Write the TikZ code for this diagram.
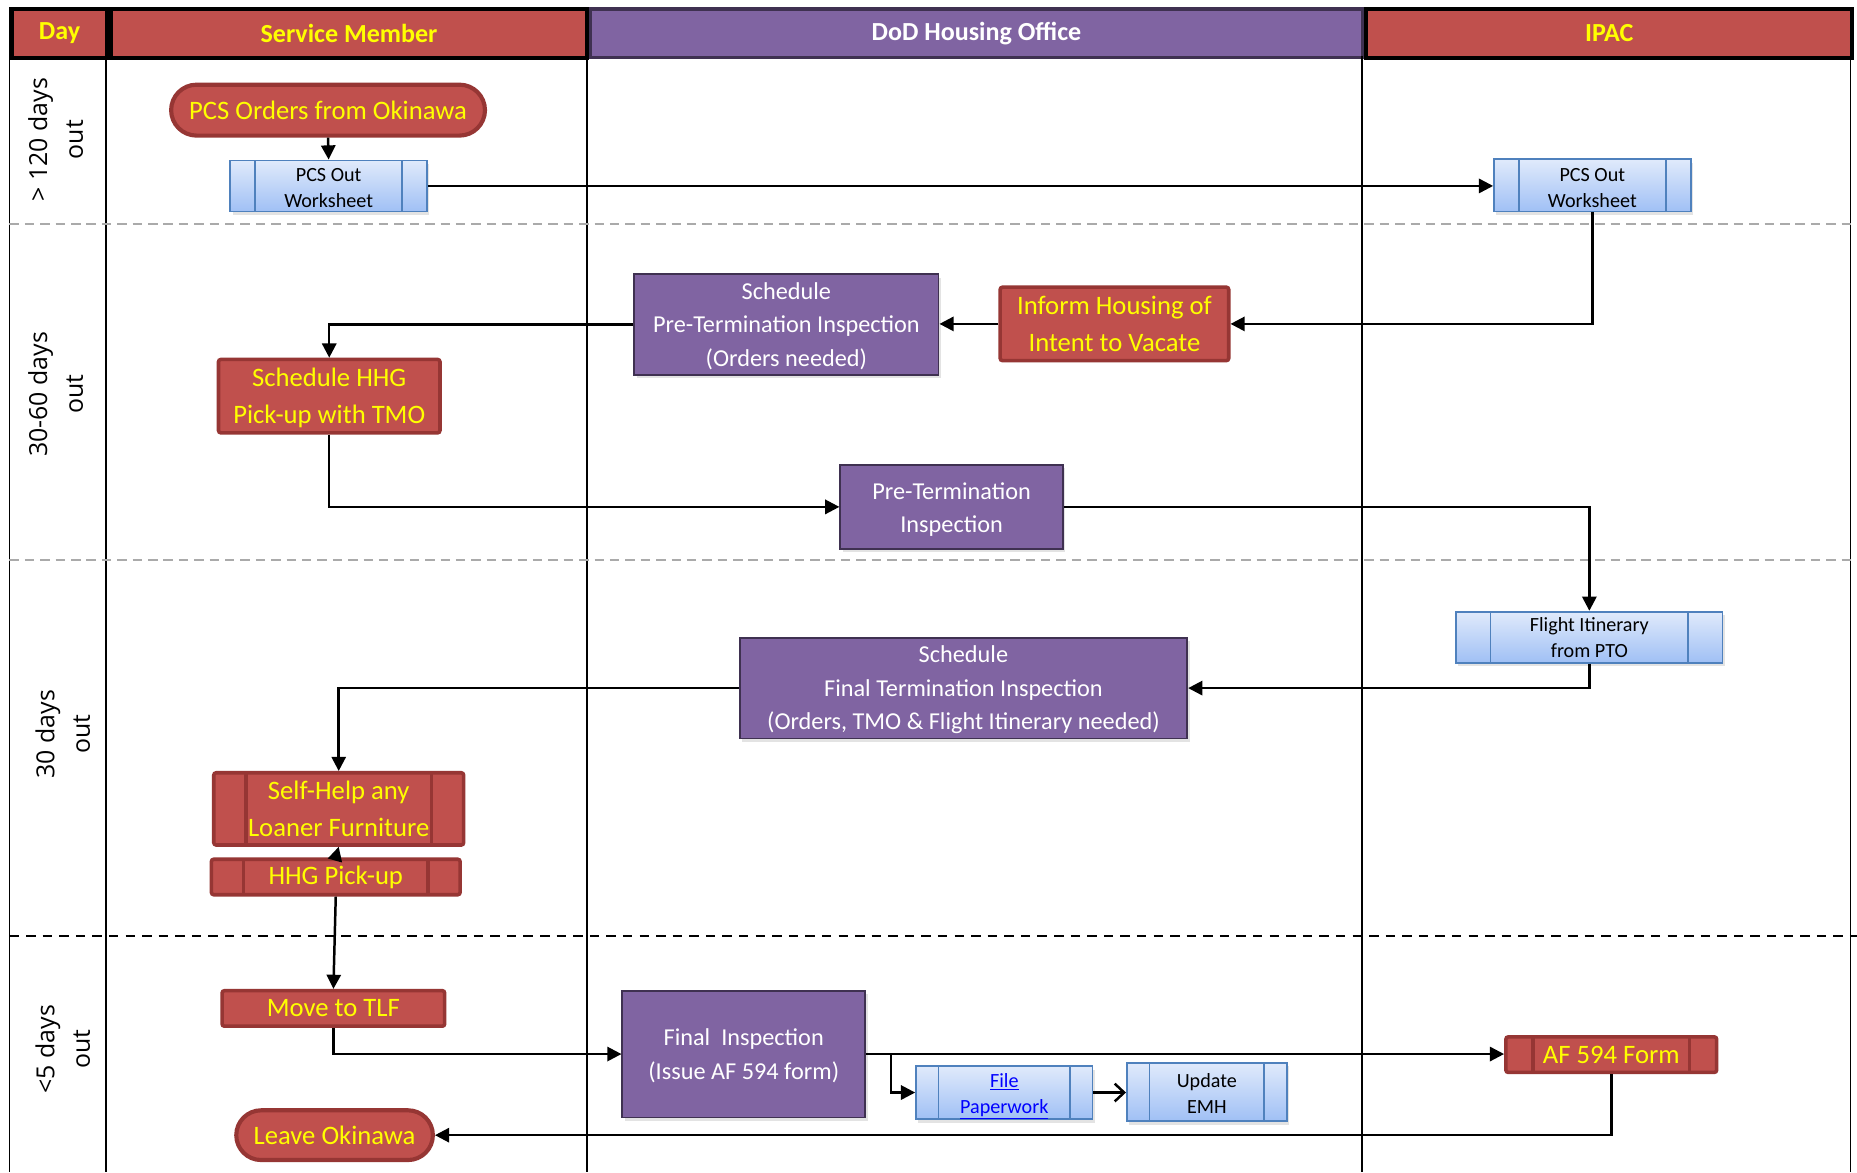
\documentclass[tikz,border=0pt]{standalone}
\usepackage{fontspec}
\setmainfont{Carlito}
\newfontfamily\lanefont{Open Sans}
\usetikzlibrary{shapes.misc,shadows,arrows.meta,calc}
\definecolor{rfill}{RGB}{192,80,77}
\definecolor{rdark}{RGB}{150,54,52}
\definecolor{pfill}{RGB}{128,100,162}
\definecolor{pdark}{RGB}{63,49,81}
\definecolor{bborder}{RGB}{79,129,189}
\definecolor{btop}{RGB}{224,234,251}
\definecolor{bbot}{RGB}{160,192,245}
\definecolor{ylw}{RGB}{255,255,0}
\definecolor{dgray}{RGB}{170,170,170}
\definecolor{linkblue}{RGB}{0,0,255}
\begin{document}
\begin{tikzpicture}[x=1pt,y=-1pt,
  hdr/.style={rectangle, draw=black, line width=3.5pt, fill=rfill, text=ylw, font=\bfseries\fontsize{22}{26}\selectfont, inner sep=0pt, anchor=north west},
  redbox/.style={rectangle, rounded corners=2pt, draw=rdark, line width=3pt, fill=rfill, text=ylw, font=\fontsize{22.5}{31}\selectfont, align=center, inner sep=0pt},
  redproc/.style={redbox, path picture={\draw[rdark, line width=3pt]
      ([xshift=#1]path picture bounding box.north west) -- ([xshift=#1]path picture bounding box.south west)
      ([xshift=-#1]path picture bounding box.north east) -- ([xshift=-#1]path picture bounding box.south east);}},
  stadium/.style={rounded rectangle, draw=rdark, line width=3.5pt, fill=rfill, text=ylw, font=\fontsize{22.5}{31}\selectfont, inner sep=0pt},
  shad/.style={drop shadow={shadow xshift=2pt, shadow yshift=-3pt, opacity=0.22}},
  purplebox/.style={rectangle, draw=pdark, line width=1.5pt, fill=pfill, text=white, font=\fontsize{20.5}{28}\selectfont, align=center, inner sep=0pt, shad},
  blueproc/.style={rectangle, draw=bborder, line width=1.5pt, top color=btop, bottom color=bbot, text=black, font=\fontsize{17}{22}\selectfont, align=center, inner sep=0pt, shad,
    path picture={\draw[bborder, line width=1.5pt]
      ([xshift=#1]path picture bounding box.north west) -- ([xshift=#1]path picture bounding box.south west)
      ([xshift=-#1]path picture bounding box.north east) -- ([xshift=-#1]path picture bounding box.south east);}},
  arr/.style={line width=2.1pt, -{Triangle[length=12pt,width=12pt]}},
  openarr/.style={line width=2.1pt, -{Straight Barb[length=8pt,width=15pt,line width=2.1pt]}},
  lane/.style={line width=1.5pt, black},
  sep/.style={line width=1.5pt, dgray, dash pattern=on 8pt off 5pt},
  sepb/.style={line width=1.5pt, black, dash pattern=on 8pt off 6pt},
  lanelbl/.style={rotate=90, align=center, font=\lanefont\fontsize{21}{30}\selectfont, inner sep=0pt}
]
\useasboundingbox (0,0) rectangle (1568,990);
\fill[white] (0,0) rectangle (1568,990);

% headers
\node[hdr, minimum width=81pt, minimum height=41pt] (dayh) at (8,6) {Day};
\node[hdr, minimum width=402pt, minimum height=41pt] (smh) at (92,6) {Service Member};
\node[hdr, draw=pdark, line width=3pt, fill=pfill, text=white, minimum width=652pt, minimum height=41pt] (dodh) at (497,6) {DoD Housing Office};
\node[hdr, minimum width=410pt, minimum height=41pt] (ipach) at (1152,6) {IPAC};

% lane lines
\draw[lane] (8,47) -- (8,990);
\draw[lane] (89.5,47) -- (89.5,990);
\draw[lane] (495.5,47) -- (495.5,990);
\draw[lane] (1150,47) -- (1150,990);
\draw[lane] (1562.5,47) -- (1562.5,990);

% separators
\draw[sep] (8,189) -- (1568,189);
\draw[sep] (8,473) -- (1568,473);
\draw[sepb] (8,790) -- (1568,790);

% lane labels
\node[lanelbl] (l1) at (47,118) {> 120 days\\out};
\node[lanelbl] (l2) at (47,333) {30-60 days\\out};
\node[lanelbl] (l3) at (53,620) {30 days\\out};
\node[lanelbl] (l4) at (53,886) {<5 days\\out};

% nodes
\node[stadium, minimum width=265pt, minimum height=43pt] (orders) at (277,93) {PCS Orders from Okinawa};
\node[blueproc=21pt, minimum width=166pt, minimum height=43pt] (ws1) at (277.5,157) {\rule{0pt}{15pt}PCS Out\\Worksheet};
\node[blueproc=21pt, minimum width=166pt, minimum height=44pt] (ws2) at (1344.5,156.5) {\rule{0pt}{15pt}PCS Out\\Worksheet};
\node[redbox, minimum width=193pt, minimum height=62pt] (inform) at (941,273.5) {Inform Housing of\\Intent to Vacate};
\node[purplebox, minimum width=257pt, minimum height=85pt] (schedpre) at (664,274) {\rule{0pt}{17pt}Schedule\\Pre-Termination Inspection\\(Orders needed)};
\node[redbox, minimum width=187pt, minimum height=62pt] (hhgsched) at (278,334.5) {\rule{0pt}{19pt}Schedule HHG\\Pick-up with TMO};
\node[purplebox, minimum width=188pt, minimum height=71pt] (preterm) at (803.5,428) {\rule{0pt}{18pt}Pre-Termination\\Inspection};
\node[blueproc=29pt, minimum width=225pt, minimum height=43pt] (flight) at (1342,538) {Flight Itinerary\\from PTO};
\node[purplebox, minimum width=378pt, minimum height=85pt] (schedfinal) at (813.5,581) {\rule{0pt}{17pt}Schedule\\Final Termination Inspection\\(Orders, TMO \& Flight Itinerary needed)};
\node[redproc=27pt, minimum width=211pt, minimum height=61pt] (selfhelp) at (286,683) {Self-Help any\\Loaner Furniture};
\node[redproc=27pt, minimum width=210pt, minimum height=30pt] (hhgpick) at (283.5,740.5) {HHG Pick-up};
\node[redbox, minimum width=188pt, minimum height=30pt] (tlf) at (281.5,851.5) {Move to TLF};
\node[purplebox, minimum width=205pt, minimum height=107pt] (finalinsp) at (628,890) {\rule{0pt}{17pt}Final\ \ Inspection\\(Issue AF 594 form)};
\node[redproc=23pt, minimum width=178pt, minimum height=30pt] (af594) at (1360.5,890.5) {AF 594 Form};
\node[blueproc=19pt, minimum width=149pt, minimum height=38pt, text=linkblue] (file) at (848,922.5) {\rule{0pt}{18pt}\underline{File}\\\underline{Paperwork}};
\node[blueproc=19pt, minimum width=135pt, minimum height=49pt] (emh) at (1019,922) {\rule{0pt}{15pt}Update\\EMH};
\node[stadium, minimum width=166pt, minimum height=42pt] (leave) at (282.5,958.5) {Leave Okinawa};

% connectors
\draw[arr] (orders.south) -- (ws1.north);
\draw[arr] (ws1.east) -- (ws1.east -| ws2.west);
\draw[arr] (ws2.south) |- (inform.east);
\draw[arr] (inform.west) -- (inform.west -| schedpre.east);
\draw[arr] (schedpre.west) -| (hhgsched.north);
\draw[arr] (hhgsched.south) |- (preterm.west);
\draw[arr] (preterm.east) -| (flight.north);
\draw[arr] (flight.south) |- (schedfinal.east);
\draw[arr] (schedfinal.west) -| (selfhelp.north);
\draw[arr] (hhgpick.north) -- (selfhelp.south);
\draw[arr] (hhgpick.south) -- (tlf.north);
\draw[arr] (tlf.south) |- (finalinsp.west);
\draw[arr] (finalinsp.east) -- (finalinsp.east -| af594.west);
\coordinate (br) at ($(finalinsp.east)+(21,0)$);
\draw[arr] (br) |- (file.west);
\draw[openarr] (file.east) -- (file.east -| emh.west);
\draw[arr] (af594.south) |- (leave.east);
\end{tikzpicture}
\end{document}
